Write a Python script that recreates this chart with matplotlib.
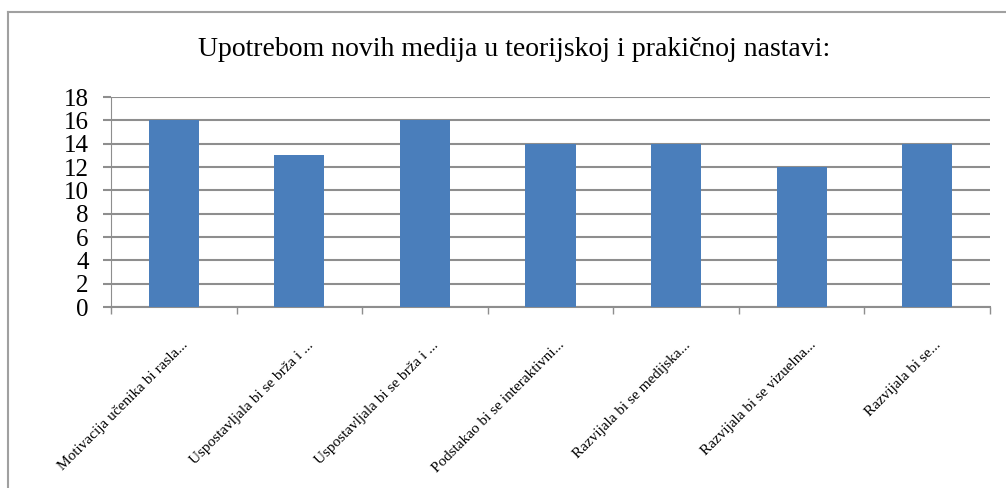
import matplotlib
matplotlib.use("Agg")
from matplotlib import pyplot
from matplotlib.lines import Line2D
from matplotlib.transforms import ScaledTranslation
import numpy

# DATA
categories = ["Motivacija učenika bi rasla...",
              "Uspostavljala bi se brža i ...",
              "Uspostavljala bi se brža i ...",
              "Podstakao bi se interaktivni...",
              "Razvijala bi se medijska...",
              "Razvijala bi se vizuelna...",
              "Razvijala bi se..."]
values = [16, 13, 16, 14, 14, 12, 14]
yticks = [0, 2, 4, 6, 8, 10, 12, 14, 16, 18]
title = "Upotrebom novih medija u teorijskoj i prakičnoj nastavi:"

pyplot.rcParams['font.family'] = ['Liberation Serif', 'DejaVu Serif']

canvas = pyplot.figure(figsize=(10.06, 4.88), dpi=100)
axes = canvas.add_axes([111/1006, 1-307/488, (990-111)/1006, (307-97)/488])

grey = '#8e8e8e'
xpos = numpy.arange(len(categories))
axes.bar(xpos, values, width=0.4, color='#4a7ebb', zorder=3)

axes.set_xlim(-0.5, len(categories) - 0.5)
axes.set_ylim(0, 18)
axes.set_yticks(yticks)
axes.set_yticklabels([str(v) for v in yticks], fontsize=18)
axes.yaxis.grid(True, color=grey, linewidth=1.5, zorder=0)
axes.tick_params(axis='y', length=6, width=1.5, color=grey, pad=10)

# category boundary ticks at bottom
axes.set_xticks(numpy.arange(-0.5, len(categories)), minor=True)
axes.tick_params(axis='x', which='minor', length=5, width=1, color=grey, direction='out')
axes.set_xticks(xpos)
axes.tick_params(axis='x', which='major', length=0)
labels = axes.set_xticklabels(categories, fontsize=11, rotation=45,
                              ha='right', va='center', rotation_mode='anchor')
offset = ScaledTranslation(12/100, -31/100, canvas.dpi_scale_trans)
for lab in labels:
    lab.set_transform(lab.get_transform() + offset)

for side in ['top', 'right']:
    axes.spines[side].set_visible(False)
axes.spines['left'].set_color(grey)
axes.spines['bottom'].set_color(grey)
axes.spines['bottom'].set_linewidth(1.5)

canvas.text(514/1006, 1-50/488, title, ha='center', va='center', fontsize=20)

# outer chart border (cut off at right and bottom)
canvas.add_artist(Line2D([8/1006, 8/1006], [0, 1-12/488], transform=canvas.transFigure,
                         color='#a0a0a0', linewidth=1.5))
canvas.add_artist(Line2D([8/1006, 1], [1-12/488, 1-12/488], transform=canvas.transFigure,
                         color='#a0a0a0', linewidth=1.5))

pyplot.savefig("out.png", dpi=100)
